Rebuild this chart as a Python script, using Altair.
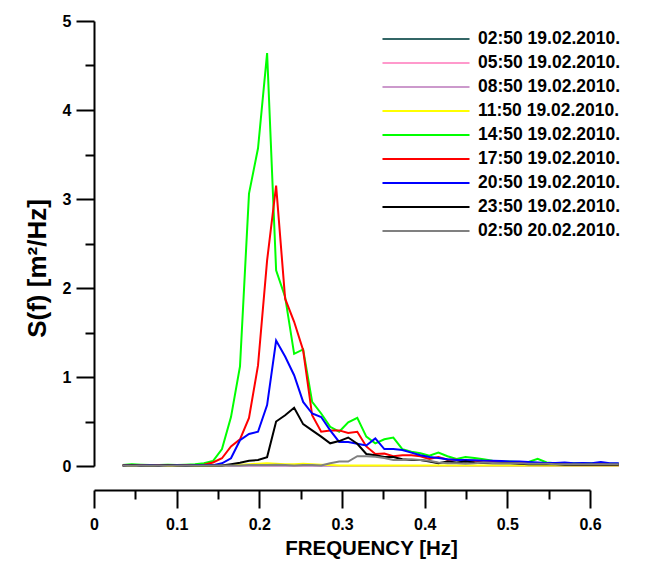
import altair as alt
import pandas as pd

# frequency grid [Hz]
freq = [0.0348, 0.0457, 0.0566, 0.0675, 0.0784, 0.0893, 0.1003, 0.1112, 0.1221, 0.1330, 0.1439,
        0.1548, 0.1657, 0.1766, 0.1875, 0.1984, 0.2094, 0.2203, 0.2312, 0.2421, 0.2530, 0.2639,
        0.2748, 0.2857, 0.2966, 0.3075, 0.3185, 0.3294, 0.3403, 0.3512, 0.3621, 0.3730, 0.3839,
        0.3948, 0.4057, 0.4166, 0.4276, 0.4385, 0.4494, 0.4603, 0.4712, 0.4821, 0.4930, 0.5039,
        0.5148, 0.5257, 0.5367, 0.5476, 0.5585, 0.5694, 0.5803, 0.5912, 0.6021, 0.6130, 0.6239,
        0.6348]

series_names = ["02:50 19.02.2010.", "05:50 19.02.2010.", "08:50 19.02.2010.",
                "11:50 19.02.2010.", "14:50 19.02.2010.", "17:50 19.02.2010.",
                "20:50 19.02.2010.", "23:50 19.02.2010.", "02:50 20.02.2010."]
series_colors = ["#336666", "#FF99CC", "#CC99CC", "#FFFF00", "#00FF00",
                 "#FF0000", "#0000FF", "#000000", "#808080"]

s_0250_19 = [0.0] * 56
s_0550_19 = [0.0] * 56
s_0850_19 = [0.0] * 56
s_1150_19 = ([0.002] * 11 +
             [0.005, 0.01, 0.015, 0.02, 0.025, 0.03, 0.025, 0.02, 0.02, 0.025, 0.02, 0.015, 0.01] +
             [0.005] * 32)
s_1450_19 = ([0.01, 0.02, 0.015, 0.01, 0.01, 0.015, 0.01, 0.015, 0.02, 0.03, 0.056] +
             [0.19, 0.55, 1.12, 3.06, 3.57, 4.64, 2.20, 1.90, 1.26, 1.31, 0.72, 0.59, 0.44] +
             [0.385, 0.49, 0.54, 0.33, 0.255, 0.30, 0.32, 0.19, 0.16, 0.143, 0.116, 0.15, 0.11, 0.08, 0.10] +
             [0.09, 0.075, 0.06, 0.05, 0.05, 0.045, 0.045, 0.08, 0.04, 0.03, 0.03, 0.03, 0.03, 0.03,
              0.025, 0.025, 0.025])
s_1750_19 = ([0.01, 0.01, 0.01, 0.01, 0.01, 0.01, 0.01, 0.01, 0.01, 0.015, 0.04] +
             [0.087, 0.22, 0.30, 0.54, 1.13, 2.31, 3.15, 1.88, 1.62, 1.30, 0.57, 0.385, 0.40] +
             [0.40, 0.37, 0.385, 0.22, 0.135, 0.14, 0.11, 0.12, 0.12, 0.11, 0.08, 0.10, 0.07, 0.07, 0.06] +
             [0.06, 0.055, 0.05, 0.045, 0.04, 0.035, 0.035, 0.03, 0.03, 0.025, 0.025, 0.02, 0.02, 0.02,
              0.02, 0.02, 0.02])
s_2050_19 = ([0.005, 0.01, 0.005, 0.01, 0.005, 0.01, 0.01, 0.005, 0.01, 0.01, 0.01] +
             [0.03, 0.087, 0.29, 0.36, 0.385, 0.685, 1.41, 1.23, 1.02, 0.72, 0.59, 0.55, 0.40] +
             [0.27, 0.27, 0.25, 0.23, 0.31, 0.19, 0.19, 0.18, 0.15, 0.12, 0.10, 0.09, 0.075, 0.067, 0.067] +
             [0.065, 0.06, 0.06, 0.055, 0.05, 0.05, 0.045, 0.04, 0.035, 0.035, 0.04, 0.03, 0.035, 0.03,
              0.045, 0.03, 0.03])
s_2350_19 = ([0.005, 0.01, 0.005, 0.005, 0.005, 0.01, 0.005, 0.005, 0.005, 0.005, 0.005] +
             [0.005, 0.02, 0.037, 0.06, 0.067, 0.10, 0.50, 0.57, 0.655, 0.47, 0.40, 0.33, 0.255] +
             [0.28, 0.32, 0.25, 0.135, 0.12, 0.10, 0.10, 0.075, 0.067, 0.067, 0.05, 0.03, 0.05, 0.04, 0.05] +
             [0.04, 0.035, 0.03, 0.03, 0.03, 0.025, 0.02, 0.02, 0.02, 0.02, 0.015, 0.015, 0.015, 0.015,
              0.015, 0.015, 0.015])
s_0250_20 = ([0.005] * 11 +
             [0.005, 0.005, 0.005, 0.01, 0.01, 0.01, 0.015, 0.01, 0.005, 0.01, 0.01, 0.005, 0.03] +
             [0.05, 0.05, 0.11, 0.11, 0.105, 0.09, 0.067, 0.067, 0.075, 0.067, 0.06, 0.04, 0.03, 0.03, 0.025] +
             [0.03, 0.04, 0.035, 0.03, 0.03, 0.03, 0.025, 0.025, 0.025, 0.02, 0.02, 0.02, 0.02, 0.02,
              0.02, 0.02, 0.02])

all_series = [s_0250_19, s_0550_19, s_0850_19, s_1150_19, s_1450_19,
              s_1750_19, s_2050_19, s_2350_19, s_0250_20]

x_major = [0, 0.1, 0.2, 0.3, 0.4, 0.5, 0.6]
x_minor = [0.05, 0.15, 0.25, 0.35, 0.45, 0.55]
y_major = [0, 1, 2, 3, 4, 5]
y_minor = [0.5, 1.5, 2.5, 3.5, 4.5]

rows = []
for k, (name, vals) in enumerate(zip(series_names, all_series)):
    for f, v in zip(freq, vals):
        rows.append({"f": f, "S": v, "series": name, "k": k})
df = pd.DataFrame(rows)

FONT = "Liberation Sans"
xscale = alt.Scale(domain=[0, 0.6], nice=False, zero=False)
yscale = alt.Scale(domain=[0, 5], nice=False)

lines = alt.Chart(df).mark_line(strokeWidth=2).encode(
    x=alt.X("f:Q", scale=xscale, axis=alt.Axis(
        values=x_major, orient="bottom", offset=24, tickSize=18, tickWidth=2,
        domainWidth=2, domainColor="black", tickColor="black", grid=False,
        labelFont=FONT, labelFontWeight="bold", labelFontSize=16, labelColor="black",
        labelPadding=8, labelFlush=False,
        labelExpr="datum.value == 0 ? '0' : format(datum.value, '.1f')",
        title="FREQUENCY [Hz]", titleFont=FONT, titleFontWeight="bold", titleFontSize=20.5,
        titleColor="black", titleX=277, titleY=58, titleBaseline="middle", titleAlign="center")),
    y=alt.Y("S:Q", scale=yscale, axis=alt.Axis(
        values=y_major, orient="left", tickSize=18, tickWidth=2,
        domainWidth=2, domainColor="black", tickColor="black", grid=False,
        labelFont=FONT, labelFontWeight="bold", labelFontSize=16, labelColor="black",
        labelPadding=5, labelFlush=False, format="d",
        title="S(f) [m²/Hz]", titleFont=FONT, titleFontWeight="bold", titleFontSize=26,
        titleColor="black", titleX=-57, titleY=247, titleAngle=270,
        titleBaseline="middle", titleAlign="center")),
    color=alt.Color("series:N", scale=alt.Scale(domain=series_names, range=series_colors),
                    sort=series_names,
                    legend=alt.Legend(orient="none", legendX=322, legendY=8, title=None,
                                      symbolType="M-5,0H5", symbolSize=303, symbolStrokeWidth=2,
                                      labelFont=FONT, labelFontWeight="bold", labelFontSize=17.5,
                                      labelColor="black", labelOffset=42, rowPadding=5,
                                      labelLimit=400, padding=0)),
    order=alt.Order("k:Q"),
    detail="series:N",
)

minor = alt.Chart(df).mark_point(opacity=0).encode(
    x=alt.X("f:Q", scale=xscale, axis=alt.Axis(
        values=x_minor, orient="bottom", offset=24, tickSize=9, tickWidth=2,
        tickColor="black", domain=False, labels=False, grid=False, title=None)),
    y=alt.Y("S:Q", scale=yscale, axis=alt.Axis(
        values=y_minor, orient="left", tickSize=9, tickWidth=2,
        tickColor="black", domain=False, labels=False, grid=False, title=None)),
)

chart = alt.layer(lines, minor).resolve_axis(x="independent", y="independent").properties(
    width=496, height=445,
    autosize=alt.AutoSizeParams(type="none"),
    padding={"left": 86, "top": 13, "right": 45, "bottom": 100},
).configure_view(stroke=None)

chart.save("out.html", embed_options={"renderer": "svg", "actions": False})
